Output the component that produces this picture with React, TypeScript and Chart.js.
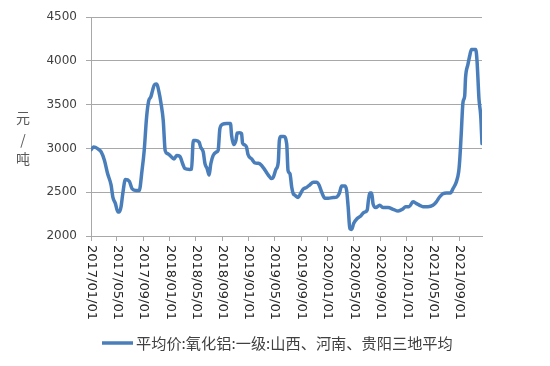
import React, { useEffect, useRef } from "react";
import { Chart, registerables } from "chart.js";

Chart.register(...registerables);

const dates: string[] = [
  "2017-01-01","2017-01-13","2017-02-02","2017-02-17","2017-03-04","2017-03-19","2017-04-04","2017-04-12","2017-04-24","2017-05-05",
  "2017-05-12","2017-05-20","2017-05-28","2017-06-09","2017-06-27","2017-07-10","2017-07-28","2017-08-12","2017-08-25","2017-09-04",
  "2017-09-15","2017-09-25","2017-10-05","2017-10-13","2017-10-21","2017-11-01","2017-11-10","2017-11-21","2017-12-01","2017-12-10",
  "2017-12-21","2018-01-01","2018-01-20","2018-02-01","2018-02-16","2018-03-01","2018-03-11","2018-04-03","2018-04-11","2018-04-19",
  "2018-05-01","2018-05-16","2018-05-23","2018-06-04","2018-06-12","2018-06-22","2018-07-01","2018-07-09","2018-07-20","2018-08-05",
  "2018-08-12","2018-08-20","2018-09-01","2018-09-20","2018-10-08","2018-10-13","2018-10-23","2018-11-02","2018-11-08","2018-11-20",
  "2018-11-28","2018-12-03","2018-12-13","2018-12-21","2018-12-28","2019-01-14","2019-01-29","2019-02-14","2019-03-01","2019-03-17",
  "2019-04-01","2019-04-16","2019-04-24","2019-05-06","2019-05-17","2019-05-22","2019-05-29","2019-06-12","2019-06-25","2019-07-01",
  "2019-07-10","2019-07-18","2019-07-25","2019-08-02","2019-08-17","2019-08-28","2019-09-09","2019-09-25","2019-10-10","2019-10-26",
  "2019-11-10","2019-11-22","2019-12-03","2019-12-19","2020-01-03","2020-01-26","2020-02-11","2020-02-23","2020-03-05","2020-03-20",
  "2020-03-28","2020-04-04","2020-04-12","2020-04-20","2020-04-30","2020-05-16","2020-05-31","2020-06-16","2020-07-01","2020-07-07",
  "2020-07-13","2020-07-22","2020-07-28","2020-08-10","2020-08-28","2020-09-13","2020-10-06","2020-10-29","2020-11-21","2020-12-11",
  "2020-12-26","2021-01-11","2021-01-29","2021-02-14","2021-03-01","2021-03-16","2021-04-08","2021-05-01","2021-05-17","2021-06-01",
  "2021-06-17","2021-07-02","2021-07-21","2021-08-02","2021-08-17","2021-08-28","2021-09-02","2021-09-09","2021-09-17","2021-09-25",
  "2021-09-29","2021-10-10","2021-10-18","2021-10-26","2021-11-15","2021-11-21","2021-11-25","2021-11-30","2021-12-08","2021-12-14",
];

const prices: number[] = [
  2985,3015,2995,2960,2865,2710,2580,2445,2370,2275,
  2275,2335,2485,2645,2625,2540,2520,2520,2750,2975,
  3355,3545,3590,3665,3725,3735,3660,3510,3320,2975,
  2940,2920,2880,2920,2910,2825,2770,2760,2765,3090,
  3090,3070,3015,2960,2825,2770,2695,2825,2920,2960,
  2980,3225,3275,3285,3285,3150,3045,3090,3175,3180,
  3170,3060,3040,3015,2930,2880,2835,2830,2805,2750,
  2695,2655,2670,2760,2845,3090,3135,3135,3050,2750,
  2710,2560,2485,2465,2440,2485,2535,2555,2585,2615,
  2615,2580,2505,2430,2430,2440,2445,2485,2570,2570,
  2520,2335,2085,2075,2145,2200,2225,2270,2295,2410,
  2490,2490,2370,2325,2350,2325,2325,2305,2285,2305,
  2335,2335,2390,2370,2350,2335,2335,2350,2390,2445,
  2485,2490,2490,2540,2615,2730,2865,3165,3525,3600,
  3810,3960,4055,4130,4130,4000,3810,3565,3375,3055,
];

const xTickLabels: string[] = [
  "2017/01/01","2017/05/01","2017/09/01","2018/01/01","2018/05/01","2018/09/01","2019/01/01","2019/05/01",
  "2019/09/01","2020/01/01","2020/05/01","2020/09/01","2021/01/01","2021/05/01","2021/09/01",
];

const yTicks: number[] = [2000, 2500, 3000, 3500, 4000, 4500];
const yTitle: string[] = ["元", "/", "吨"];
const seriesName = "平均价:氧化铝:一级:山西、河南、贵阳三地平均";

const dayOf = (s: string): number => {
  const [y, m, d] = s.split(/[-\/]/).map(Number);
  return (Date.UTC(y, m - 1, d) - Date.UTC(2017, 0, 1)) / 86400000;
};

const LINE_COLOR = "#4a7ebb";
const GRID_COLOR = "#a8a8a8";

export default function App() {
  const ref = useRef<HTMLCanvasElement | null>(null);

  useEffect(() => {
    if (!ref.current) return;
    const points = dates.map((d, i) => ({ x: dayOf(d), y: prices[i] }));
    const tickValues = xTickLabels.map(dayOf);

    const decor = {
      id: "decor",
      afterDraw(chart: any) {
        const ctx = chart.ctx;
        const xs = chart.scales.x;
        const area = chart.chartArea;
        ctx.save();
        // x tick labels (rotated clockwise, reading downward)
        ctx.fillStyle = "#262626";
        ctx.font = "13px 'DejaVu Sans'";
        ctx.textAlign = "left";
        ctx.textBaseline = "middle";
        xTickLabels.forEach((lab, i) => {
          const px = xs.getPixelForValue(tickValues[i]);
          ctx.save();
          ctx.translate(px, area.bottom + 9);
          ctx.rotate(Math.PI / 2);
          ctx.fillText(lab, 0, 0);
          ctx.restore();
        });
        // y title
        ctx.fillStyle = "#595959";
        ctx.font = "14px 'Noto Sans CJK SC'";
        ctx.textAlign = "center";
        const ys = [118, 140, 159];
        yTitle.forEach((t, i) => ctx.fillText(t, 23, ys[i]));
        // legend
        const ly = 343;
        ctx.strokeStyle = LINE_COLOR;
        ctx.lineWidth = 3.5;
        ctx.beginPath();
        ctx.moveTo(102, ly);
        ctx.lineTo(133, ly);
        ctx.stroke();
        ctx.fillStyle = "#404040";
        let size = 15;
        ctx.font = `${size}px 'Noto Sans CJK SC'`;
        const w = ctx.measureText(seriesName).width;
        size = size * 317 / w;
        ctx.font = `${size}px 'Noto Sans CJK SC'`;
        ctx.textAlign = "left";
        ctx.textBaseline = "middle";
        ctx.fillText(seriesName, 136, ly);
        ctx.restore();
      },
    };

    const chart = new Chart(ref.current, {
      type: "line",
      data: {
        datasets: [
          {
            label: seriesName,
            data: points,
            borderColor: LINE_COLOR,
            backgroundColor: LINE_COLOR,
            borderWidth: 3.5,
            pointRadius: 0,
            cubicInterpolationMode: "monotone",
            borderJoinStyle: "round",
            borderCapStyle: "round",
          },
        ],
      },
      options: {
        responsive: false,
        animation: false,
        devicePixelRatio: 1,
        layout: { padding: { left: 0, right: 68, top: 17, bottom: 0 } },
        plugins: { legend: { display: false }, tooltip: { enabled: false } },
        scales: {
          x: {
            type: "linear",
            min: 0,
            max: dayOf(dates[dates.length - 1]),
            afterBuildTicks: (scale: any) => {
              scale.ticks = tickValues.map((v) => ({ value: v }));
            },
            afterFit: (scale: any) => {
              scale.height = 130;
            },
            ticks: { display: false },
            grid: {
              drawOnChartArea: false,
              drawTicks: true,
              tickLength: 5,
              color: GRID_COLOR,
              lineWidth: 1,
            },
            border: { display: true, color: GRID_COLOR, width: 1 },
          },
          y: {
            min: 2000,
            max: 4500,
            afterBuildTicks: (scale: any) => {
              scale.ticks = yTicks.map((v) => ({ value: v }));
            },
            afterFit: (scale: any) => {
              scale.width = 91;
            },
            ticks: {
              color: "#404040",
              font: { family: "'DejaVu Sans'", size: 12 },
              padding: 9,
              callback: (v: any) => String(v),
            },
            grid: {
              color: GRID_COLOR,
              lineWidth: 1,
              tickLength: 5,
            },
            border: { display: true, color: GRID_COLOR, width: 1 },
          },
        },
      },
      plugins: [decor],
    } as any);

    return () => chart.destroy();
  }, []);

  return (
    <div style={{ position: "absolute", left: 0, top: 0, width: 550, height: 366, background: "#fff" }}>
      <canvas ref={ref} width={550} height={366} style={{ width: 550, height: 366, display: "block" }} />
    </div>
  );
}
